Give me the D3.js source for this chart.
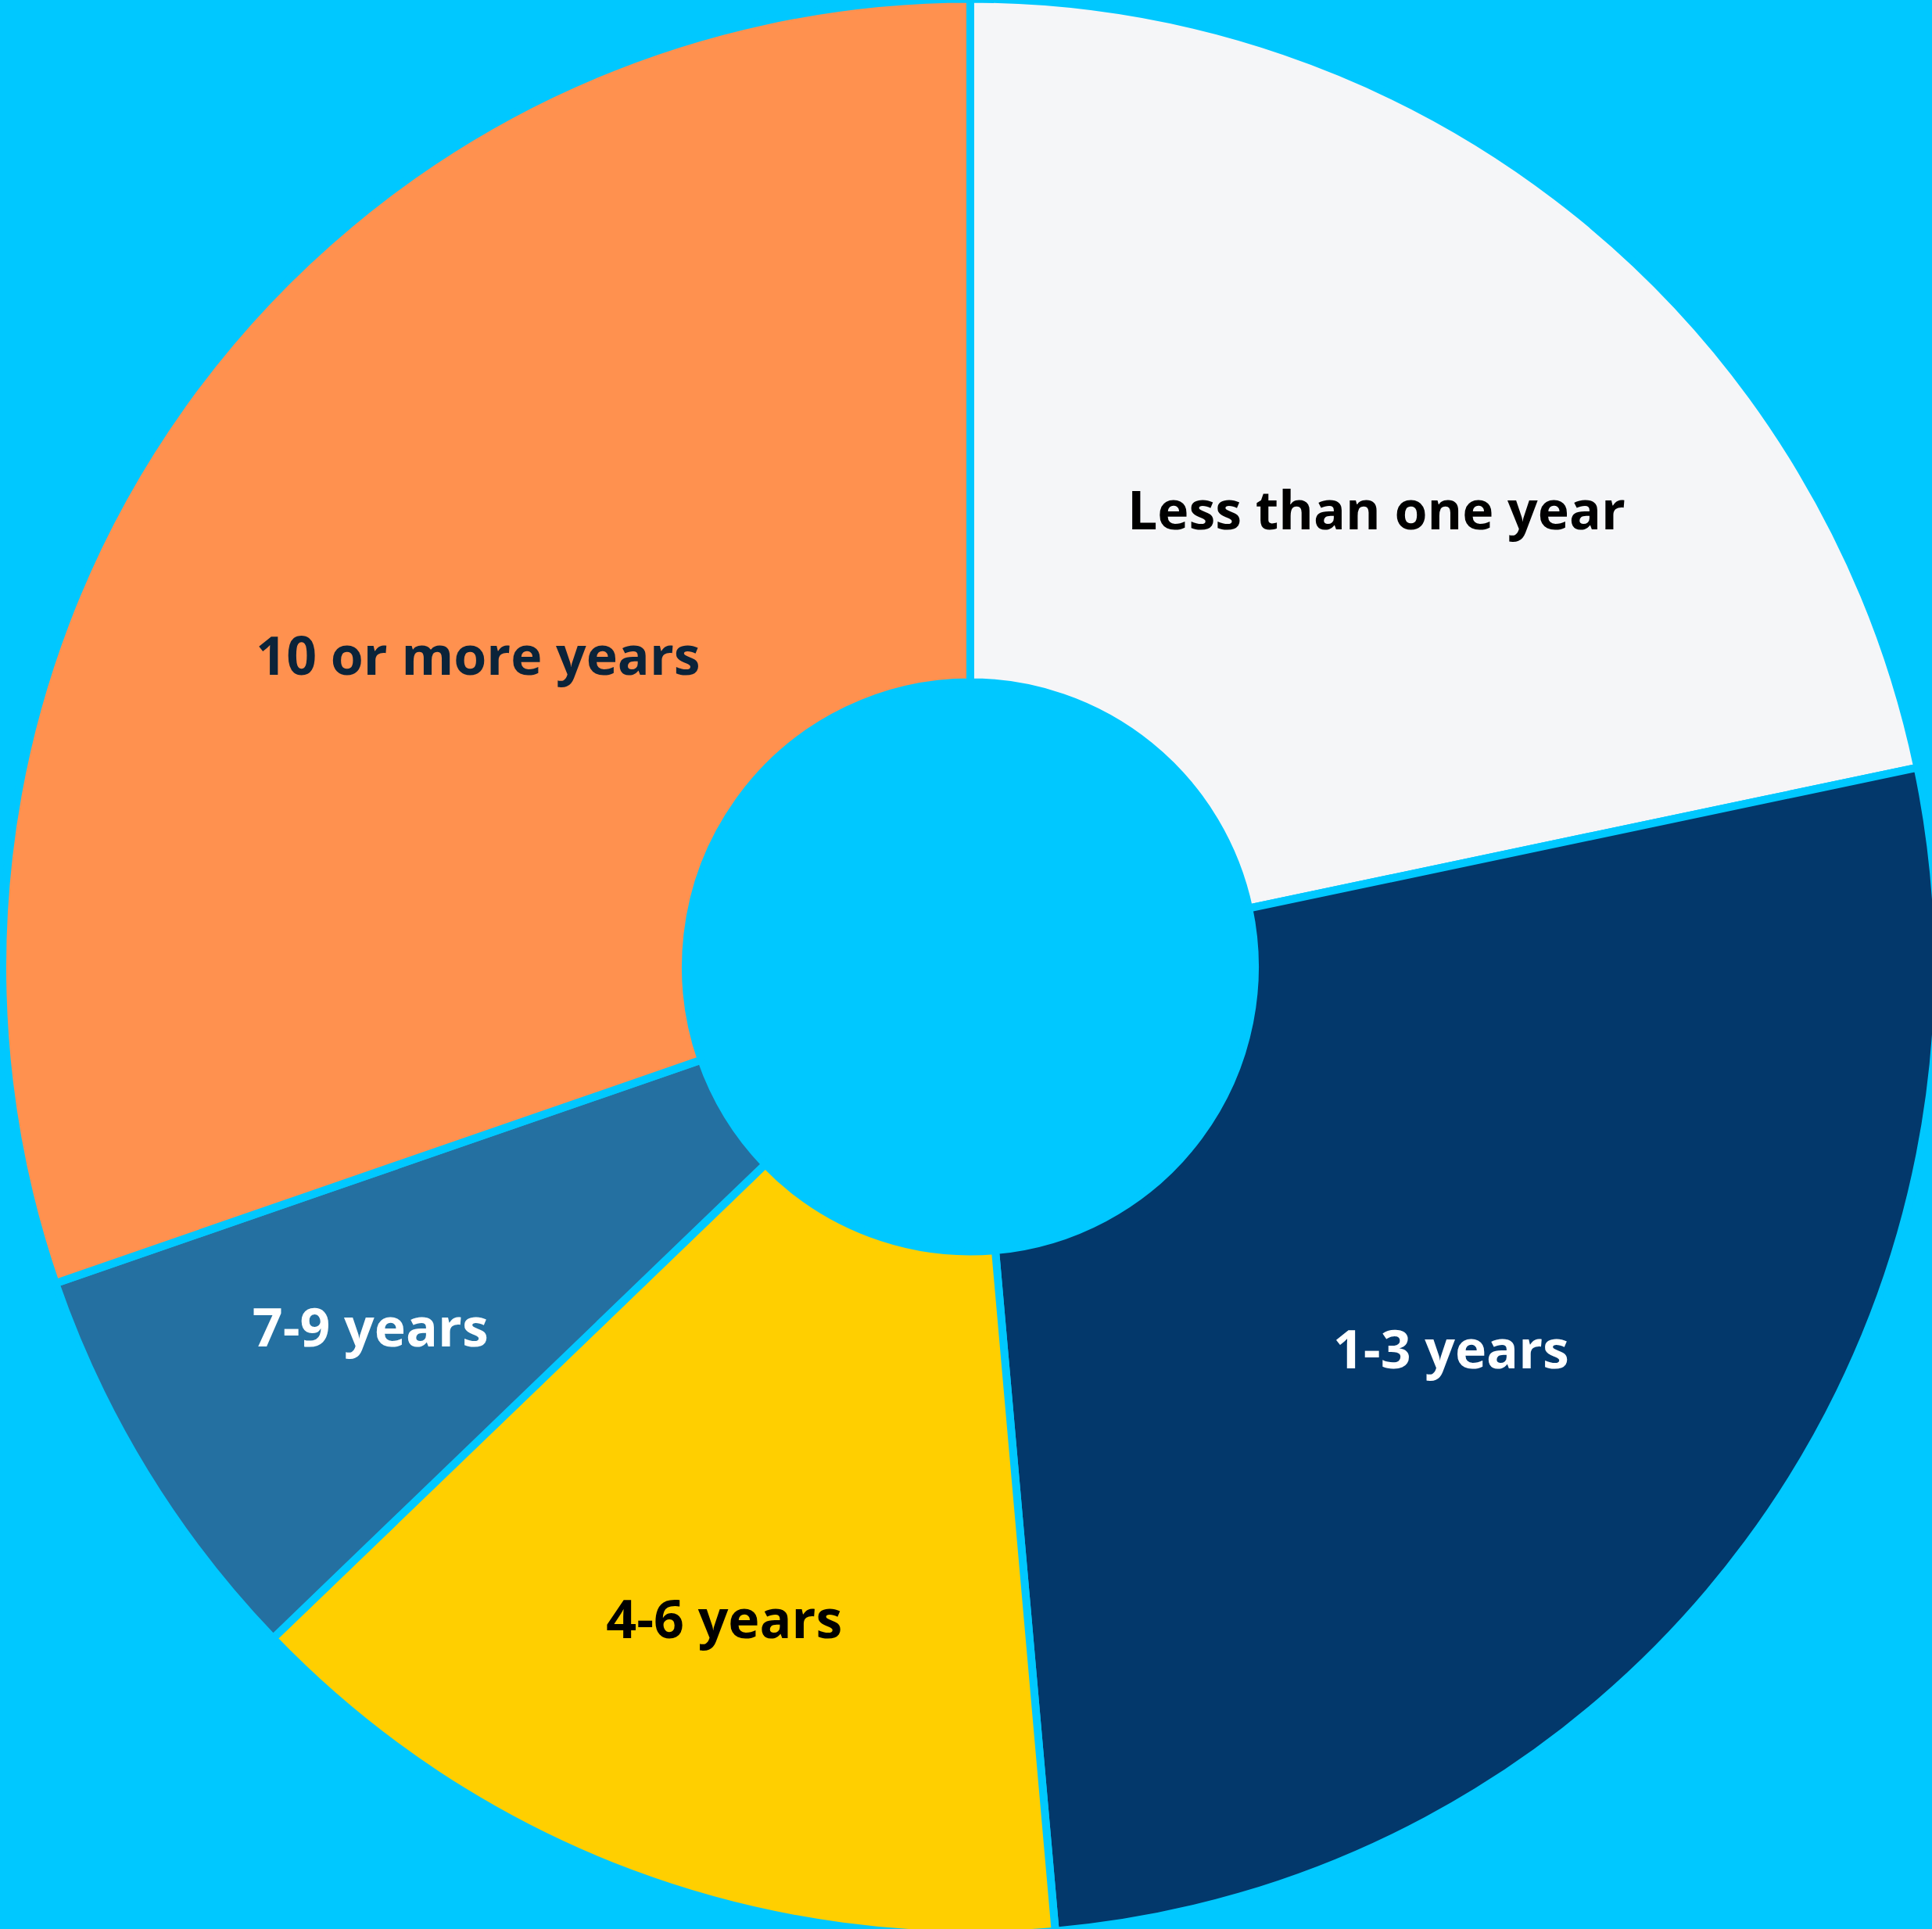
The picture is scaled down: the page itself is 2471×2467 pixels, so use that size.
<!DOCTYPE html>
<html>
<head>
<meta charset="utf-8">
<script src="https://cdn.jsdelivr.net/npm/d3@7"></script>
<style>
  html, body { margin: 0; padding: 0; background: #00C8FF; overflow: hidden; }
  svg { display: block; }
</style>
</head>
<body>
<svg id="chart"></svg>
<script>
// Years of experience, share of respondents (%)
const categories = ["Less than one year", "1-3 years", "4-6 years", "7-9 years", "10 or more years"];
const shares = [21.7, 26.9, 14.2, 6.9, 30.3];

const sliceColors = ["#F5F6F8", "#03386B", "#FFCF00", "#2470A1", "#FF914F"];
const labelColors = ["#000000", "#FFFFFF", "#000000", "#FFFFFF", "#0B2339"];

// where each label sits inside its slice: fraction of the slice's sweep, fraction of the outer radius
const labelSweep = [0.533, 0.52, 0.503, 0.52, 0.471];
const labelReach = [0.634, 0.637, 0.723, 0.726, 0.604];

const W = 2471, H = 2467;
const bg = "#00C8FF";
const cx = 1241, cy = 1236.5;
const gap = 10;
const outerR = 1233 + gap / 2;
const innerR = 369 - gap / 2;

const svg = d3.select("#chart").attr("width", W).attr("height", H);
svg.append("rect").attr("width", W).attr("height", H).attr("fill", bg);

const g = svg.append("g").attr("transform", `translate(${cx},${cy})`);

const pie = d3.pie().sort(null).value(d => d);
const arcs = pie(shares);

const arc = d3.arc().innerRadius(innerR).outerRadius(outerR);

g.selectAll("path.slice")
  .data(arcs)
  .join("path")
  .attr("class", "slice")
  .attr("d", arc)
  .attr("fill", (d, i) => sliceColors[i])
  .attr("stroke", bg)
  .attr("stroke-width", gap)
  .attr("stroke-linejoin", "miter");

const visR = outerR - gap / 2;
g.selectAll("text.label")
  .data(arcs)
  .join("text")
  .attr("class", "label")
  .attr("transform", (d, i) => {
    const a = d.startAngle + (d.endAngle - d.startAngle) * labelSweep[i];
    const r = visR * labelReach[i];
    return `translate(${r * Math.sin(a)},${-r * Math.cos(a)})`;
  })
  .attr("text-anchor", "middle")
  .attr("dy", "0.36em")
  .attr("font-family", "'Open Sans', 'Noto Sans', sans-serif")
  .attr("font-weight", 700)
  .attr("font-size", 68)
  .attr("fill", (d, i) => labelColors[i])
  .text((d, i) => categories[i]);
</script>
</body>
</html>
